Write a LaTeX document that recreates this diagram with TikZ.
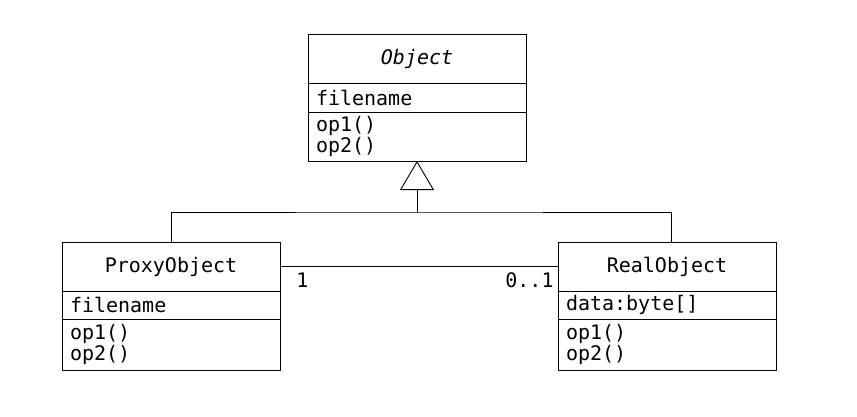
\documentclass[tikz,border=0pt]{standalone}
\usepackage{fontspec}
\setmonofont{DejaVu Sans Mono}
\usetikzlibrary{positioning,arrows.meta}
\newcommand{\umlfont}{\fontsize{20}{18}\selectfont\ttfamily}
\tikzset{
	umlname/.style={draw, outer sep=0pt, inner sep=0pt, minimum width=218pt, minimum height=49pt, font=\umlfont},
	umlpart/.style={draw, outer sep=0pt, inner xsep=8pt, inner ysep=0pt, text width=202pt, align=left, font=\umlfont},
	mult/.style={inner sep=2pt, font=\umlfont},
	inherits/.style={-{Triangle[open,length=29pt,width=34pt]}}
}

\begin{document}
\begin{tikzpicture}[x=1pt, y=-1pt, line width=0.9pt]
		%%%%% START %%%%%
		\useasboundingbox (0,0) rectangle (857,416);
		
		\node[umlname, anchor=north] (obj) at (417,34) {\itshape Object};
		\node[umlpart, minimum height=29pt, below=0pt of obj] (objattr) {filename};
		\node[umlpart, minimum height=49pt, below=0pt of objattr] (objops) {op1()\\op2()};
		
		\node[umlname, anchor=north] (proxy) at (171,242) {ProxyObject};
		\node[umlpart, minimum height=28pt, below=0pt of proxy] (proxyattr) {filename};
		\node[umlpart, minimum height=51pt, below=0pt of proxyattr] (proxyops) {op1()\\op2()};
		
		\node[umlname, anchor=north] (real) at (667,242) {RealObject};
		\node[umlpart, minimum height=28pt, below=0pt of real] (realattr) {data:byte[]};
		\node[umlpart, minimum height=51pt, below=0pt of realattr] (realops) {op1()\\op2()};
		
		\coordinate (bar) at (417,212);
		\draw (proxy.north) |- (bar) -| ([xshift=4pt]real.north);
		\draw[inherits] (bar) -- (objops.south);
		
		\draw (proxy.east) -- (real.west);
		\node[mult, anchor=north west] (m1) at ([xshift=14pt, yshift=-4pt]proxy.east) {1};
		\node[mult, anchor=north east] (m01) at ([xshift=-2pt, yshift=-4pt]real.west) {0..1};
		
		%%%%% END %%%%%
	\end{tikzpicture}
\end{document}
